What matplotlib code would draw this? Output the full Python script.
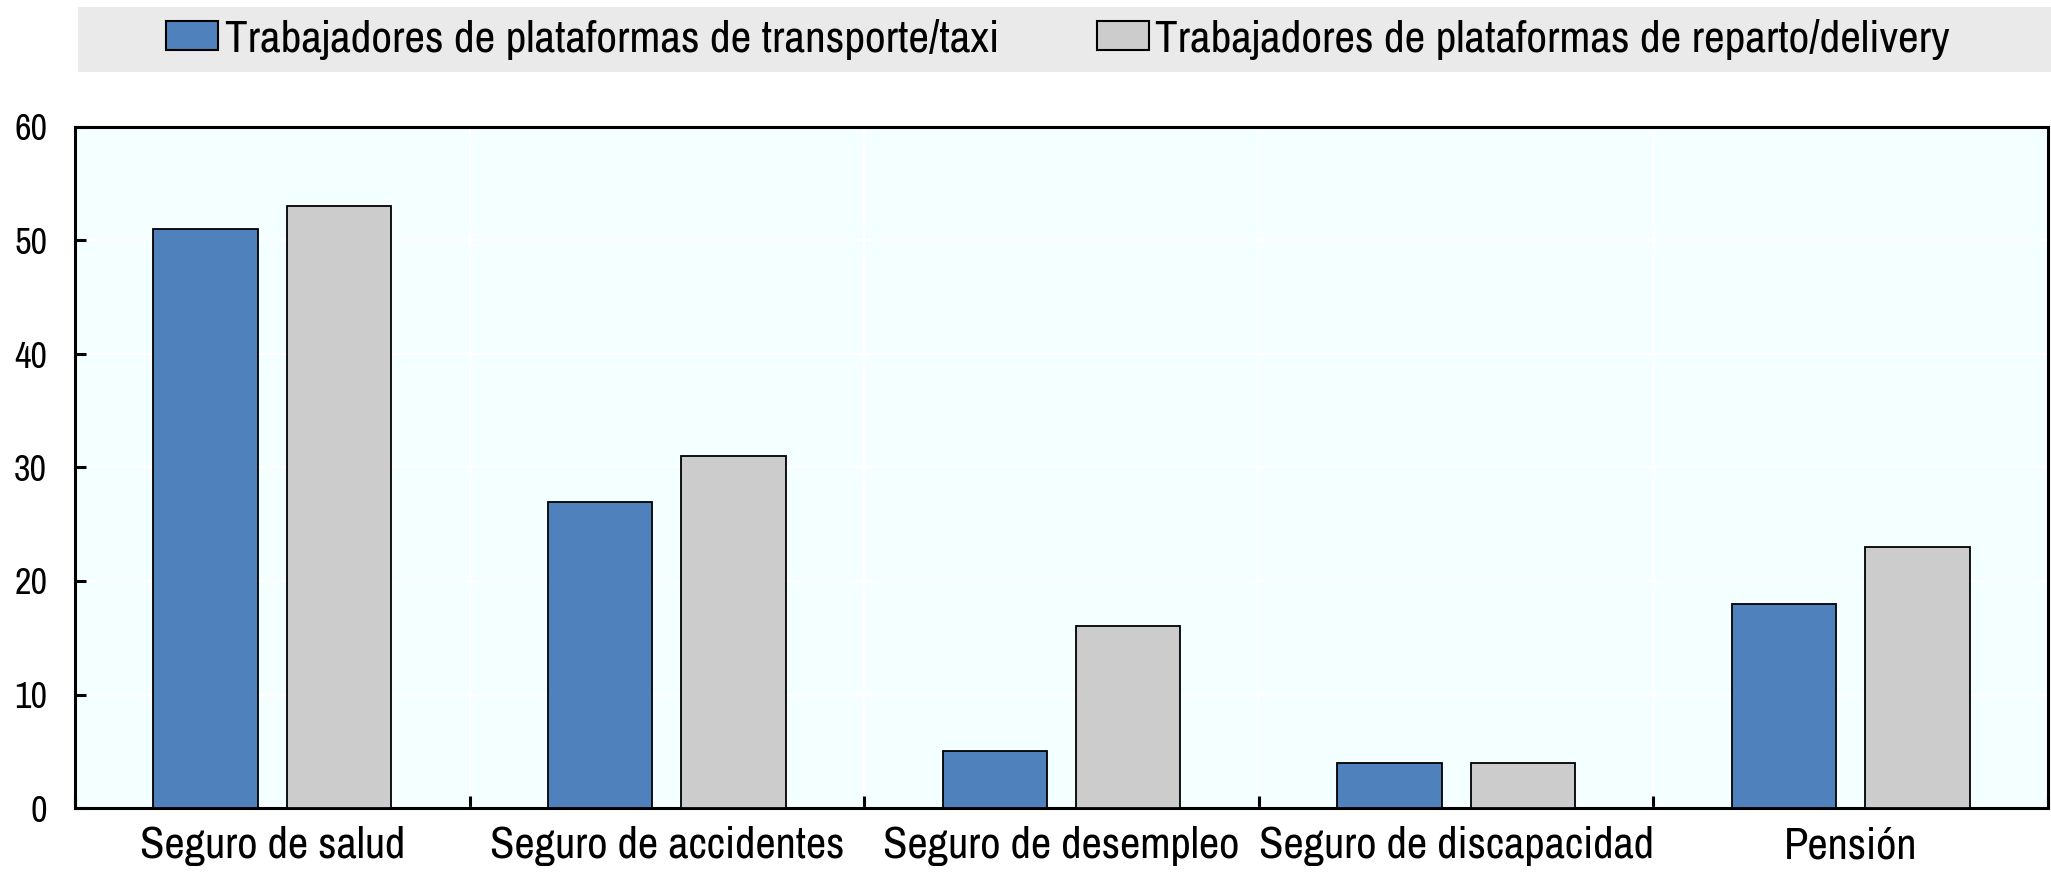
import matplotlib
matplotlib.use("Agg")
import matplotlib.pyplot as plt
from matplotlib.patches import Rectangle, Patch
import numpy as np

categories = ["Seguro de salud", "Seguro de accidentes", "Seguro de desempleo",
              "Seguro de discapacidad", "Pensión"]
taxi = [51, 27, 5, 4, 18]
delivery = [53, 31, 16, 4, 23]
series_names = ["Trabajadores de plataformas de transporte/taxi",
                "Trabajadores de plataformas de reparto/delivery"]
yticks = [0, 10, 20, 30, 40, 50, 60]

plt.rcParams["font.family"] = ["Archivo Narrow", "PT Sans Narrow", "Liberation Sans", "DejaVu Sans"]

W, H = 2051, 872
fig = plt.figure(figsize=(W / 100, H / 100), dpi=100)
ax = fig.add_axes([75 / W, 1 - 808 / H, (2048 - 75) / W, (808 - 127) / H])
ax.set_facecolor("#F4FFFF")

x = np.arange(len(categories))
bw = 0.265
off = 0.169
ax.bar(x - off, taxi, bw, color="#4F81BD", edgecolor="black", linewidth=1.3, zorder=3)
ax.bar(x + off, delivery, bw, color="#CCCCCC", edgecolor="black", linewidth=1.3, zorder=3)

ax.set_xlim(-0.5, len(categories) - 0.5)
ax.set_ylim(0, 60)
ax.set_yticks(yticks)
ax.set_yticklabels([str(v) for v in yticks])
ax.set_xticks(x)
ax.set_xticklabels(categories)
ax.tick_params(axis="x", length=0, pad=13, labelsize=32)
ax.tick_params(axis="y", direction="in", length=8, width=2.2, pad=20, labelsize=26)
ax.set_xticks(np.arange(len(categories) + 1) - 0.5, minor=True)
ax.tick_params(axis="x", which="minor", direction="in", length=9, width=2.2)

ax.grid(True, axis="y", which="major", color="white", linewidth=1.6, zorder=1)
ax.grid(True, axis="x", which="minor", color="white", linewidth=1.6, zorder=1)
ax.grid(False, axis="x", which="major")
ax.set_axisbelow(True)
for s in ax.spines.values():
    s.set_linewidth(2.2)
    s.set_color("black")

fig.patches.append(Rectangle((78 / W, 1 - 72 / H), 1 - 78 / W, 65 / H,
                             transform=fig.transFigure, facecolor="#EAEAEA",
                             edgecolor="none", zorder=0))
handles = [Patch(facecolor="#4F81BD", edgecolor="black", linewidth=1.5),
           Patch(facecolor="#CCCCCC", edgecolor="black", linewidth=1.5)]
fig.legend(handles, series_names, loc="center", ncol=2,
           bbox_to_anchor=(1058 / W, 1 - 39 / H), frameon=False,
           fontsize=32.6, handlelength=1.15, handleheight=0.6, handletextpad=0.15,
           columnspacing=2.15, borderaxespad=0, borderpad=0)

fig.savefig("out.png", dpi=100)
